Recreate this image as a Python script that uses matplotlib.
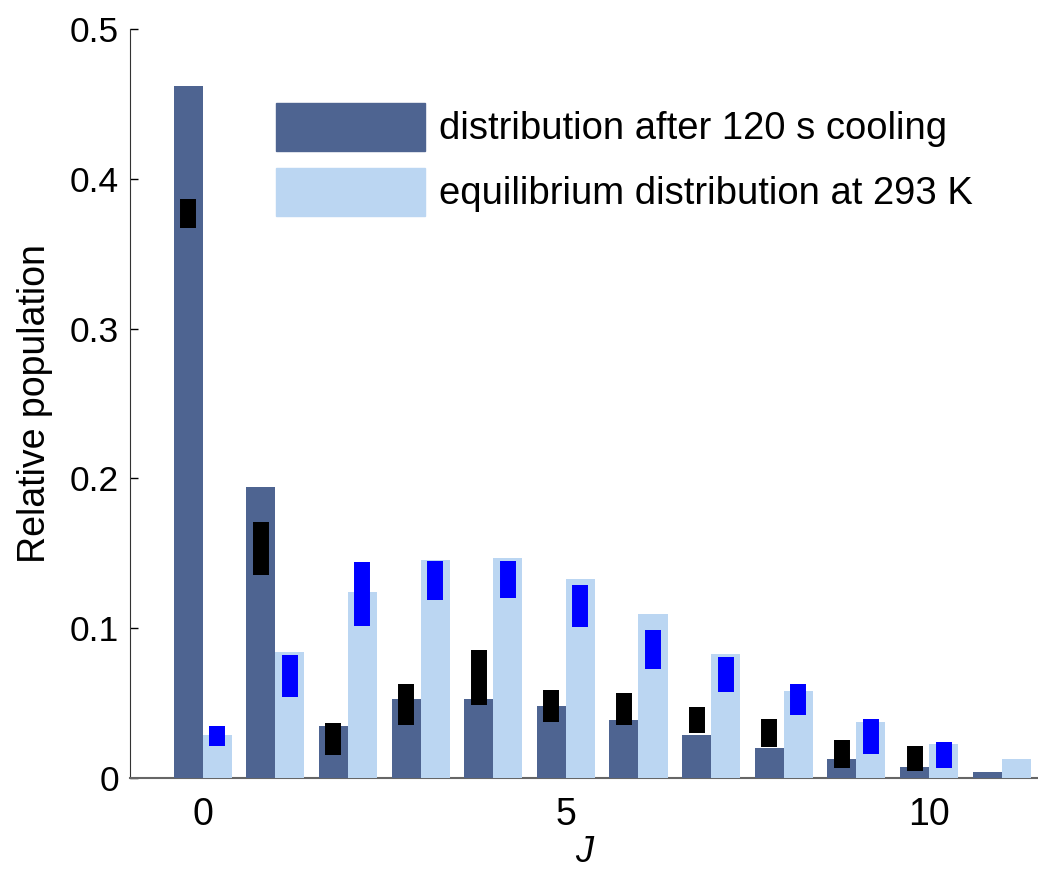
import matplotlib.pyplot as plt
import numpy as np
from matplotlib.patches import Patch

plt.rcParams['font.family'] = ['Liberation Sans', 'DejaVu Sans']

# rotational levels
J = np.arange(12)

# distribution after 120 s cooling
cooled = [0.462, 0.194, 0.035, 0.053, 0.053, 0.048, 0.039, 0.029, 0.020, 0.013, 0.0075, 0.004]
# measured points (black) with error
cooled_meas = [0.377, 0.153, 0.026, 0.049, 0.067, 0.048, 0.046, 0.039, 0.030, 0.016, 0.013]
cooled_err = [0.0097, 0.0177, 0.0105, 0.0138, 0.0182, 0.0106, 0.0106, 0.0087, 0.0092, 0.0095, 0.0083]

# equilibrium distribution at 293 K
equil = [0.029, 0.084, 0.124, 0.1455, 0.147, 0.133, 0.1095, 0.083, 0.058, 0.0376, 0.0227, 0.0129]
equil_meas = [0.028, 0.068, 0.123, 0.132, 0.1325, 0.1147, 0.0857, 0.069, 0.0524, 0.0275, 0.0156]
equil_err = [0.0067, 0.014, 0.0214, 0.013, 0.0126, 0.0139, 0.013, 0.0119, 0.0103, 0.0117, 0.0087]

dark = '#4e6491'
light = '#bbd6f2'

fig = plt.figure(figsize=(10.38, 8.71), dpi=100)
ax = fig.add_axes([130 / 1038, 93 / 871, 908 / 1038, 749 / 871])

ax.bar(J - 0.2, cooled, width=0.4, color=dark, zorder=3)
ax.bar(J + 0.2, equil, width=0.4, color=light, zorder=3)

# error markers
n = len(cooled_meas)
ax.errorbar(J[:n] - 0.2, cooled_meas, yerr=cooled_err, fmt='none',
            ecolor='black', elinewidth=11.5, capsize=0, zorder=4)
ax.errorbar(J[:n] + 0.2, equil_meas, yerr=equil_err, fmt='none',
            ecolor='#0000ff', elinewidth=11.5, capsize=0, zorder=4)

ax.set_xlim(-1, 11.5)
ax.set_ylim(0, 0.5)
ax.set_xticks([0, 5, 10])
ax.set_yticks([0, 0.1, 0.2, 0.3, 0.4, 0.5])
ax.set_yticklabels(['0', '0.1', '0.2', '0.3', '0.4', '0.5'])
ax.tick_params(axis='y', direction='in', length=6, width=1, labelsize=25.5, pad=8)
ax.tick_params(axis='x', length=0, labelsize=27, pad=14)

ax.spines['top'].set_visible(False)
ax.spines['right'].set_visible(False)
ax.spines['left'].set_color('#333333')
ax.spines['bottom'].set_color('#666666')
ax.spines['bottom'].set_linewidth(1.5)

ax.set_xlabel('J', fontsize=26, style='italic', labelpad=1)
ax.set_ylabel('Relative population', fontsize=27, labelpad=12)

handles = [Patch(color=dark), Patch(color=light)]
ax.legend(handles, ['distribution after 120 s cooling', 'equilibrium distribution at 293 K'],
          loc='upper left', bbox_to_anchor=(0.1608, 0.9016), frameon=False,
          fontsize=27.5, handlelength=3.9, handleheight=1.55, labelspacing=0.45,
          handletextpad=0.36, borderpad=0, borderaxespad=0)

fig.savefig('out.png', dpi=100)
